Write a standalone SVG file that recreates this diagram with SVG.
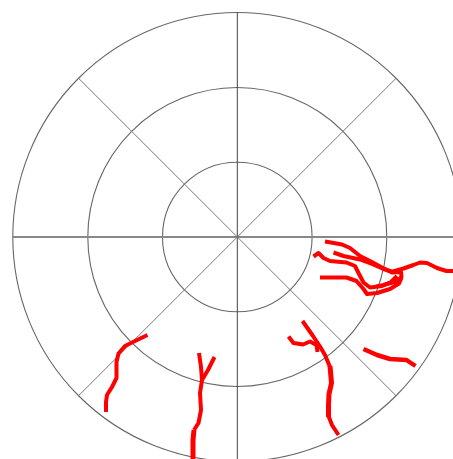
<svg xmlns="http://www.w3.org/2000/svg" width="453" height="459" viewBox="0 0 453 459">
<style>
.ring{fill:none;stroke:#666;stroke-width:1.1}
.ax{stroke:#444;stroke-width:1}
.axh{stroke:#888;stroke-width:2}
.dg{stroke:#777;stroke-width:1}
.r{fill:none;stroke:#ff0000;stroke-width:4;stroke-linecap:butt;stroke-linejoin:round}
</style>
<rect width="453" height="459" fill="#fff"/>
<g id="grid">
<circle class="ring" cx="237.3" cy="237" r="224.5"/>
<circle class="ring" cx="237.3" cy="237" r="149.5"/>
<circle class="ring" cx="237.3" cy="237" r="74.8"/>
<line class="axh" x1="12.5" y1="237" x2="453" y2="237"/>
<line class="ax" x1="237.3" y1="12.5" x2="237.3" y2="459"/>
<line class="dg" x1="78.6" y1="78.3" x2="396" y2="395.7"/>
<line class="dg" x1="396" y1="78.3" x2="78.6" y2="395.7"/>
</g>
<g id="strokes">
<path class="r" d="M147.5,335 L133,342 L125,346 L118.5,353.5 L116.5,362 L116.5,378 L112,387 L107,395 L106,402 L106,412"/>
<path class="r" d="M199,353 L201,367 L202,380 L200,393 L201,410 L198.5,423 L194,430"/>
<path class="r" d="M214.5,357 L208,370 L202,380"/>
<path class="r" style="stroke-width:5" d="M194,430 L193,440 L193,459"/>
<path class="r" d="M302.5,321 L313,336 L320,346.5 L325,355 L330,367"/>
<path class="r" style="stroke-width:5" d="M330,366 L331.5,383 L329,394 L328.5,405 L328.5,417"/>
<path class="r" d="M328.5,416 L332,425 L338.5,435"/>
<path class="r" d="M288.5,336.5 L293.5,343 L303,344.5 L310,341.5 L316.5,345 L317.5,352"/>
<path class="r" style="stroke-width:4.5" d="M363.5,349 L377,355 L390,359 L406.5,360 L415.5,366"/>
<path class="r" d="M325,241.5 L331,242.5 L342,244.5 L350,248 L360,256 L370,261 L382,267.5 L392,272.5 L401,272 L401.5,277 L396.5,281.5 L383.5,285 L376.5,286.5"/>
<path class="r" d="M333.5,252.5 L343.5,256 L360,259.5 L372,264 L383.5,269 L393,272"/>
<path class="r" d="M313.5,256.5 L318.5,253 L323.5,258 L330,261 L346.5,262.5 L355,266 L358.5,273 L363.5,282.5 L370,287.5 L382,286 L391,282 L397,276"/>
<path class="r" d="M320,277.5 L346.5,277.5 L356.5,281 L363.5,289 L367,294 L377,293 L390,289 L399,283.5 L401.5,278"/>
<path class="r" d="M393,271.5 L403.5,268.5 L413.5,265 L420,262.5 L427,263 L437,268 L446.5,271 L453,271"/>
</g>
</svg>
